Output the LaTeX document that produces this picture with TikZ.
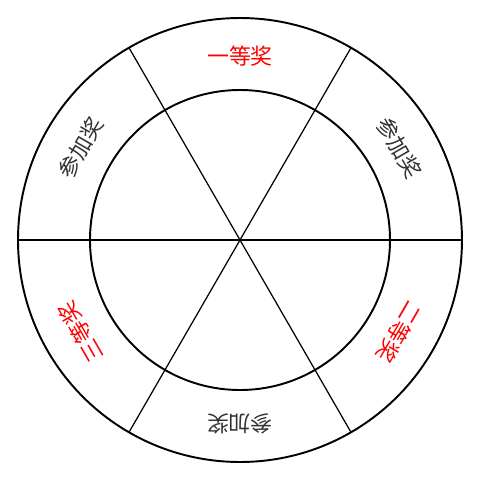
\documentclass[tikz,border=0pt]{standalone}
\usepackage{fontspec}
\newfontfamily\cjk{Noto Sans CJK SC}
\usetikzlibrary{calc}
\definecolor{grisTexto}{HTML}{333333}
\definecolor{rojoPremio}{HTML}{FF0000}
\colorlet{colBorde}{black}
\tikzset{
  circuloRueda/.style={draw=colBorde, line width=1.1pt},
  radioRueda/.style={draw=colBorde, line width=0.7pt},
  etiquetaPremio/.style={font=\cjk\fontsize{12.5}{14}\selectfont, inner sep=0pt},
  premioRojo/.style={etiquetaPremio, text=rojoPremio},
  premioGris/.style={etiquetaPremio, text=grisTexto},
}

\begin{document}
\begin{tikzpicture}
    \useasboundingbox (-4.8,-4.8) rectangle (4.8,4.8);
    \coordinate (centro) at (0,0);
    % circulos
    \draw[circuloRueda] (centro) circle (4.44);
    \draw[circuloRueda] (centro) circle (3.0);
    % radios
    \foreach \ang in {0,60,...,300}
      \coordinate (borde\ang) at (\ang:4.44);
    \draw[radioRueda] (borde0) -- (borde180);
    \draw[radioRueda] (borde60) -- (borde240);
    \draw[radioRueda] (borde120) -- (borde300);
    % premios
    \node[premioRojo, rotate=0]   (p1) at (90:3.67)  {一等奖};
    \node[premioGris, rotate=-60] (p2) at (30:3.67)  {参加奖};
    \node[premioRojo, rotate=-120] (p3) at (-30:3.67) {二等奖};
    \node[premioGris, rotate=180] (p4) at (-90:3.67) {参加奖};
    \node[premioRojo, rotate=120] (p5) at (210:3.67) {三等奖};
    \node[premioGris, rotate=60]  (p6) at (150:3.67) {参加奖};
  \end{tikzpicture}
\end{document}
